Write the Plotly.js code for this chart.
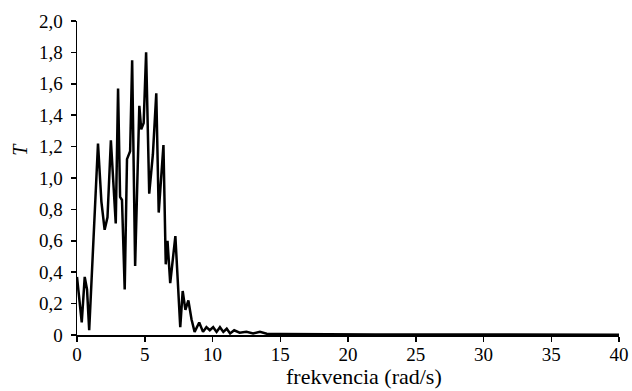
<!DOCTYPE html>
<html>
<head>
<meta charset="utf-8">
<script src="https://cdn.plot.ly/plotly-3.0.1.min.js"></script>
<style>html,body{margin:0;padding:0;background:#fff;}#chart{width:632px;height:391px;}</style>
</head>
<body>
<div id="chart"></div>
<script>
// frequency (rad/s)
const freq = [0.0, 0.35, 0.57, 0.74, 0.9, 1.2, 1.55, 1.8, 2.04, 2.25, 2.5, 2.86, 3.03, 3.18, 3.32, 3.52, 3.69, 3.92, 4.07, 4.29, 4.6, 4.74, 4.92, 5.1, 5.33, 5.6, 5.85, 6.03, 6.38, 6.55, 6.68, 6.88, 7.26, 7.62, 7.8, 8.0, 8.22, 8.45, 8.68, 9.02, 9.3, 9.55, 9.8, 10.05, 10.3, 10.55, 10.8, 11.05, 11.3, 11.6, 12.0, 12.5, 13.0, 13.5, 14.0, 15, 16, 17, 18, 19, 20, 22, 24, 26, 28, 30, 32, 34, 36, 38, 40];
// T values
const tValues = [0.37, 0.08, 0.37, 0.29, 0.03, 0.6, 1.22, 0.85, 0.67, 0.75, 1.24, 0.71, 1.57, 0.88, 0.86, 0.29, 1.12, 1.17, 1.75, 0.44, 1.46, 1.31, 1.35, 1.8, 0.9, 1.15, 1.54, 0.78, 1.21, 0.45, 0.6, 0.33, 0.63, 0.05, 0.28, 0.16, 0.22, 0.1, 0.02, 0.08, 0.02, 0.05, 0.03, 0.05, 0.02, 0.05, 0.02, 0.04, 0.01, 0.03, 0.015, 0.02, 0.01, 0.02, 0.008, 0.006, 0.005, 0.006, 0.004, 0.005, 0.004, 0.003, 0.003, 0.003, 0.002, 0.002, 0.002, 0.002, 0.002, 0.002, 0.002];
const yTickVals = [0, 0.2, 0.4, 0.6, 0.8, 1.0, 1.2, 1.4, 1.6, 1.8, 2.0];
const yTickText = ['0', '0,2', '0,4', '0,6', '0,8', '1,0', '1,2', '1,4', '1,6', '1,8', '2,0'];
const xTickVals = [0, 5, 10, 15, 20, 25, 30, 35, 40];
const xTickText = ['0', '5', '10', '15', '20', '25', '30', '35', '40'];

const fontFam = 'Liberation Serif';

Plotly.newPlot('chart', [{
  x: freq, y: tValues, type: 'scatter', mode: 'lines',
  line: {color: '#000', width: 2.5}, hoverinfo: 'skip'
}], {
  width: 632, height: 391,
  margin: {l: 77, r: 13, t: 21, b: 56},
  paper_bgcolor: '#fff', plot_bgcolor: '#fff',
  showlegend: false,
  font: {family: fontFam, size: 18, color: '#000'},
  xaxis: {
    range: [0, 40], showgrid: false, zeroline: false,
    showline: true, linecolor: '#000', linewidth: 1.5,
    ticks: 'outside', ticklen: 5, tickwidth: 1.5, tickcolor: '#000',
    tickvals: xTickVals, ticktext: xTickText, ticklabelstandoff: -3,
    tickfont: {family: fontFam, size: 19}
  },
  yaxis: {
    range: [0, 2.0], showgrid: false, zeroline: false,
    showline: true, linecolor: '#000', linewidth: 1.5,
    ticks: 'outside', ticklen: 5, tickwidth: 1.5, tickcolor: '#000',
    tickvals: yTickVals, ticktext: yTickText, ticklabelstandoff: 4,
    tickfont: {family: fontFam, size: 19}
  },
  annotations: [{
    text: '<i>T</i>', xref: 'paper', yref: 'paper', x: 0, y: 0.59,
    xanchor: 'center', yanchor: 'middle', xshift: -57, showarrow: false,
    textangle: -90, font: {family: fontFam, size: 20, color: '#000'}
  }, {
    text: 'frekvencia (rad/s)', xref: 'paper', yref: 'paper', x: 0.53, y: 0,
    xanchor: 'center', yanchor: 'middle', yshift: -41, showarrow: false,
    font: {family: fontFam, size: 22, color: '#000'}
  }]
}, {displayModeBar: false, staticPlot: true});
</script>
</body>
</html>
